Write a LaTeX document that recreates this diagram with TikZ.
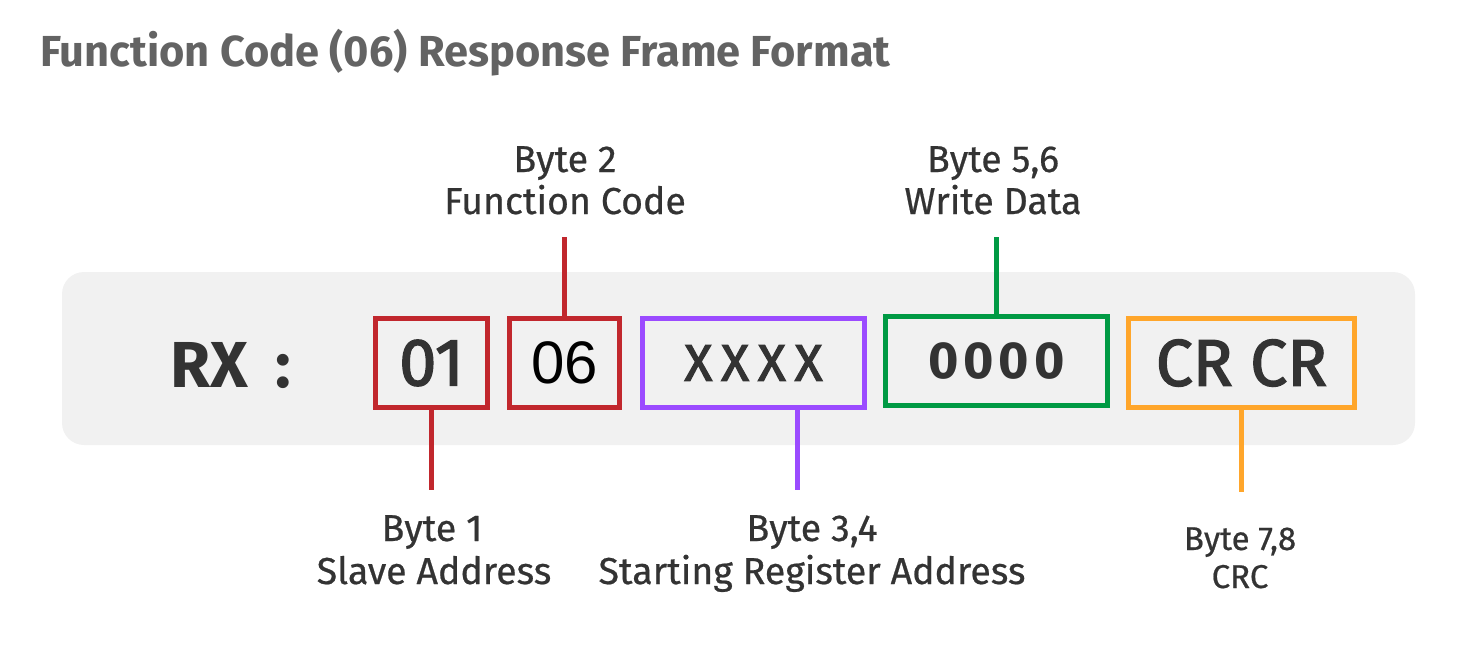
\documentclass[tikz,border=0pt]{standalone}
\usepackage{fontspec}
\setmainfont{Fira Sans}[FakeBold=0.6]
\newfontfamily\boxf{Fira Sans}
\newfontfamily\medf{Fira Sans}[FakeBold=2.2]
\newfontfamily\arialf{Liberation Sans}
\definecolor{bgc}{HTML}{F1F1F1}
\definecolor{txt}{HTML}{333333}
\definecolor{ttl}{HTML}{636363}
\definecolor{cred}{HTML}{C1272D}
\definecolor{cpur}{HTML}{9B4BFF}
\definecolor{cgrn}{HTML}{009A44}
\definecolor{corg}{HTML}{FFA62B}
\begin{document}
\begin{tikzpicture}[x=1pt,y=-1pt,
  lbl/.style={anchor=base,text=txt,inner sep=0pt,font=\fontsize{37.5}{40}\selectfont},
  lbls/.style={anchor=base,text=txt,inner sep=0pt,font=\fontsize{33}{36}\selectfont},
  bytebox/.style={draw=#1,line width=5pt,minimum height=89pt,inner sep=0pt,text=txt},
  conn/.style={draw=#1,line width=5pt}]
\useasboundingbox (0,0) rectangle (1478,650);
\node[anchor=base west,inner sep=0pt,text=ttl,font=\boxf\bfseries\fontsize{43.4}{48}\selectfont] (title) at (40,67) {Function Code (06) Response Frame Format};
\fill[bgc,rounded corners=22pt] (62,272) rectangle (1415,445);
\node[anchor=base west,inner sep=0pt,text=txt,font=\boxf\bfseries\fontsize{65}{70}\selectfont] (rx) at (170,387) {RX\hspace{27pt}:};
\node[bytebox=cred,minimum width=112pt,font=\medf\fontsize{67}{70}\selectfont] (b1) at (431.5,363) {01};
\node[bytebox=cred,minimum width=110pt,text=black,font=\arialf\fontsize{60}{66}\selectfont] (b2) at (564.5,363) {06};
\node[bytebox=cpur,minimum width=222pt,font=\medf\fontsize{52}{56}\selectfont] (b3) at (753.5,363) {X\,X\,X\,X};
\node[bytebox=cgrn,minimum width=222pt,font=\boxf\bfseries\fontsize{52}{56}\selectfont] (b4) at (996.5,361) {0\hspace{5pt}0\hspace{5pt}0\hspace{5pt}0};
\node[bytebox=corg,minimum width=226pt,font=\medf\fontsize{66}{70}\selectfont] (b5) at (1241.5,363) {CR CR};
% top labels
\node[lbl] (l2a) at (565,172) {Byte 2};
\node[lbl] (l2b) at (565,214) {Function Code};
\node[lbl] (l4a) at (993,172) {Byte 5,6};
\node[lbl] (l4b) at (993,214) {Write Data};
% bottom labels
\node[lbl] (l1a) at (432,541) {Byte 1};
\node[lbl] (l1b) at (434,584) {Slave Address};
\node[lbl] (l3a) at (812,541) {Byte 3,4};
\node[lbl] (l3b) at (812,584) {Starting Register Address};
\node[lbls] (l5a) at (1240,550) {Byte 7,8};
\node[lbls] (l5b) at (1240,588) {CRC};
% connectors
\coordinate (c2) at (564.5,237);
\coordinate (c4) at (996.5,237);
\coordinate (c1) at (431.5,490);
\coordinate (c3) at (797,490);
\coordinate (c5) at (1241.5,492);
\draw[conn=cred] (b2.north) -- (c2);
\draw[conn=cgrn] (b4.north) -- (c4);
\draw[conn=cred] (b1.south) -- (c1);
\draw[conn=cpur] (b3.south -| c3) -- (c3);
\draw[conn=corg] (b5.south) -- (c5);
\end{tikzpicture}
\end{document}
